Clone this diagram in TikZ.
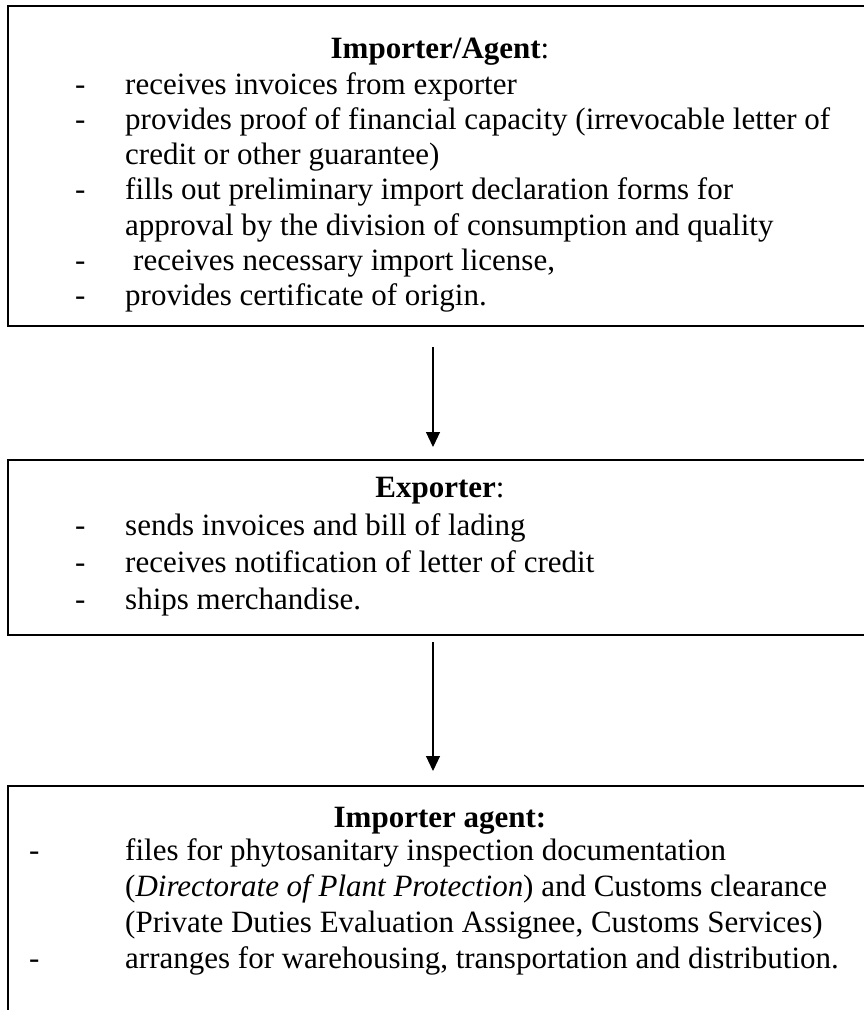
\documentclass[tikz,border=0pt]{standalone}
\usepackage{fontspec}
\setmainfont{Liberation Serif}
\usetikzlibrary{arrows.meta}
\begin{document}
\begin{tikzpicture}[x=1pt,y=-1pt,
  frame/.style={draw=black,line width=1.8pt,rectangle,inner sep=0pt},
  txt/.style={anchor=base west,inner sep=0pt,font=\fontsize{31}{36}\selectfont},
  ttl/.style={anchor=base,inner sep=0pt,font=\fontsize{31}{36}\selectfont},
  flow/.style={draw=black,line width=1.1pt,-{Triangle[length=15pt,width=14pt]}}]
\useasboundingbox (0,0) rectangle (864,1010);
\clip (0,0) rectangle (864,1010);
% boxes
\node[frame,minimum width=870pt,minimum height=320pt,anchor=north west] (b1) at (7,5) {};
\node[frame,minimum width=870pt,minimum height=175pt,anchor=north west] (b2) at (7,459) {};
\node[frame,minimum width=870pt,minimum height=260pt,anchor=north west] (b3) at (7,785) {};
% box 1 text
\node[ttl] (t1) at (440,58) {\textbf{Importer/Agent}:};
\node[txt] (d11) at (75,94) {-};
\node[txt] (l11) at (125,94) {receives invoices from exporter};
\node[txt] (d12) at (75,129.3) {-};
\node[txt] (l12) at (125,129.3) {provides proof of financial capacity (irrevocable letter of};
\node[txt] (l13) at (125,164.6) {credit or other guarantee)};
\node[txt] (d14) at (75,199.9) {-};
\node[txt] (l14) at (125,199.9) {fills out preliminary import declaration forms for};
\node[txt] (l15) at (125,235.2) {approval by the division of consumption and quality};
\node[txt] (d16) at (75,270.5) {-};
\node[txt] (l16) at (133,270.5) {receives necessary import license,};
\node[txt] (d17) at (75,305.8) {-};
\node[txt] (l17) at (125,305.8) {provides certificate of origin.};
% box 2 text
\node[ttl] (t2) at (440,497) {\textbf{Exporter}:};
\node[txt] (d21) at (75,535) {-};
\node[txt] (l21) at (125,535) {sends invoices and bill of lading};
\node[txt] (d22) at (75,572) {-};
\node[txt] (l22) at (125,572) {receives notification of letter of credit};
\node[txt] (d23) at (75,609) {-};
\node[txt] (l23) at (125,609) {ships merchandise.};
% box 3 text
\node[ttl] (t3) at (440,827) {\textbf{Importer agent:}};
\node[txt] (d31) at (29,860) {-};
\node[txt] (l31) at (125,860) {files for phytosanitary inspection documentation};
\node[txt] (l32) at (125,896) {(\textit{Directorate of Plant Protection}) and Customs clearance};
\node[txt] (l33) at (125,932) {(Private Duties Evaluation Assignee, Customs Services)};
\node[txt] (d34) at (29,968) {-};
\node[txt] (l34) at (125,968) {arranges for warehousing, transportation and distribution.};
% connectors
\coordinate (a1s) at (433,347);
\coordinate (a1e) at (433,447);
\coordinate (a2s) at (433,642);
\coordinate (a2e) at (433,771);
\draw[flow] (a1s) -- (a1e);
\draw[flow] (a2s) -- (a2e);
\end{tikzpicture}
\end{document}
